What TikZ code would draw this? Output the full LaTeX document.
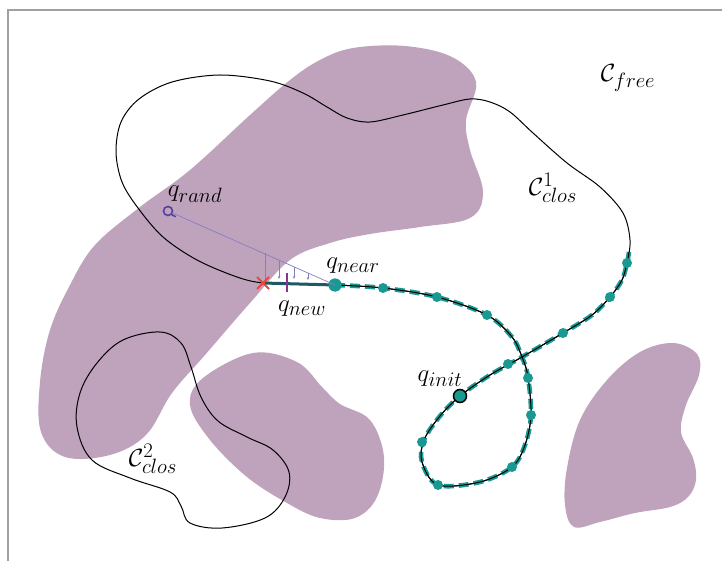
\documentclass[tikz,border=0pt]{standalone}
\usetikzlibrary{arrows.meta}
\definecolor{obst}{RGB}{191,163,188}
\definecolor{tealc}{RGB}{26,152,146}
\definecolor{darkteal}{RGB}{30,90,100}
\definecolor{lav}{RGB}{135,125,195}
\definecolor{indig}{RGB}{80,65,160}
\definecolor{newpur}{RGB}{140,50,150}
\definecolor{xred}{RGB}{235,70,60}
\definecolor{framec}{RGB}{160,160,160}
\tikzset{
  obstacle/.style={fill=obst, draw=none},
  cspace/.style={black, line width=1pt},
  treedash/.style={tealc, line width=4.6pt, dash pattern=on 10pt off 5pt},
  treedot/.style={circle, fill=tealc, inner sep=0pt, minimum size=10pt},
  lbl/.style={font=\fontsize{24.88}{28}\selectfont, inner sep=1pt},
  proj/.style={lav, line width=0.6pt},
}
\begin{document}
\begin{tikzpicture}[x=1pt,y=-1pt]
\useasboundingbox (0,0) rectangle (722,561);
% frame
\draw[framec, line width=1.2pt] (8,561) -- (8,10) -- (722,10);

% obstacles
\fill[obstacle] plot[smooth cycle, tension=0.6] coordinates {
 (353,48) (405,46) (452,57) (476,82) (466,120) (470,150) (483,192) (470,218)
 (420,227) (370,234) (330,243) (290,260) (250,303) (205,355) (172,393) (146,435)
 (110,455) (65,457) (41,432) (40,382) (50,330) (70,285) (95,245) (140,207)
 (190,170) (250,115) (290,80) (320,60)};
\fill[obstacle] plot[smooth cycle, tension=0.6] coordinates {
 (203,378) (253,353) (297,362) (322,387) (340,404) (370,420) (384,457) (377,497)
 (355,518) (320,518) (287,503) (247,477) (210,440) (190,405)};
\fill[obstacle] plot[smooth cycle, tension=0.6] coordinates {
 (673,343) (697,354) (699,375) (686,405) (681,432) (693,458) (696,480) (688,497)
 (670,507) (635,513) (600,522) (574,527) (565,505) (567,468) (580,420) (607,380) (640,352)};

% C^2 closed curve
\draw[cspace] plot[smooth cycle, tension=0.6] coordinates {
 (160,332) (181,343) (191,367) (201,397) (218,421) (247,437) (273,450) (289,472)
 (285,497) (265,518) (222,528) (190,523) (181,506) (170,492) (130,478) (92,460)
 (77,427) (80,393) (97,363) (123,340)};

% C^1 closed curve (tree path + return loop)
\draw[cspace] plot[smooth, tension=0.55] coordinates {
 (335,285) (383,288) (437,297) (487,315) (512,337) (522,357) (528,377) (531,415)
 (525,445) (512,467) (480,482) (438,485) (422,462) (424,440) (440,416) (460,396)
 (490,375) (522,357) (563,333) (592,315) (610,297) (622,280) (627,263) (630,240)
 (623,213) (600,187) (567,163) (533,133) (510,112) (490,102) (470,99) (443,105)
 (403,115) (370,122) (347,118) (327,107) (303,93) (270,81) (220,75) (172,82)
 (139,99) (121,122) (116,152) (122,182) (138,208) (163,237) (197,260) (237,277)
 (263,283) (300,284.5) (335,285)};

% tree (dashed teal over the curve)
\draw[treedash] plot[smooth, tension=0.55] coordinates {
 (335,285) (383,288) (437,297) (487,315) (512,337) (522,357) (528,377) (531,415)
 (525,445) (512,467) (480,482) (438,485) (422,462) (424,440) (440,416) (460,396)
 (490,375) (522,357) (563,333) (592,315) (610,297) (622,280) (627,263) (629,252)};
\draw[cspace] plot[smooth, tension=0.55] coordinates {
 (335,285) (383,288) (437,297) (487,315) (512,337) (522,357) (528,377) (531,415)
 (525,445) (512,467) (480,482) (438,485) (422,462) (424,440) (440,416) (460,396)
 (490,375) (522,357) (563,333) (592,315) (610,297) (622,280) (627,263) (629,252)};

% tree vertices
\foreach \p in {(383,288),(437,297),(487,315),(528,378),(531,415),(512,467),(438,485),
 (422,442),(508,364),(563,333),(610,297),(627,263)}
  \node[treedot] at \p {};

% extension step q_near -> q_new
\coordinate (xmark) at (263,283);
\node[circle, fill=tealc, inner sep=0pt, minimum size=13pt] (qnear) at (335,285) {};
\draw[darkteal, line width=3pt] (xmark) -- (qnear.center);
\node[treedot, minimum size=13pt] at (335,285) {};

% q_rand and the line to q_near
\node[circle, draw=indig, line width=1.6pt, inner sep=0pt, minimum size=9pt] (qrand) at (168,211) {};
\draw[lav, line width=0.7pt] (qrand) -- (qnear.center);
\draw[indig, line width=1.4pt] (qrand.south east) -- ++(4,2);

% projections
\draw[proj] (265,253) -- (265,281);
\draw[proj, -{Stealth[length=3pt,width=2.5pt]}] (279,260) -- (279,279);
\draw[proj, -{Stealth[length=3pt,width=2.5pt]}] (294,267) -- (294,279);
\draw[proj, -{Stealth[length=3pt,width=2.5pt]}] (308,273) -- (308,280);

% q_new marker
\draw[newpur, line width=2.6pt] (287,273) -- (287,292);
% red cross
\draw[xred, line width=1.8pt] (257,277) -- (269,289) (257,289) -- (269,277);

% q_init
\node[circle, fill=tealc, draw=black, line width=1.5pt, inner sep=0pt, minimum size=13pt] (qinit) at (460,396) {};

% labels
\node[lbl] (lrand) at (195,194) {$q_{rand}$};
\node[lbl] (lnear) at (353,266) {$q_{near}$};
\node[lbl] (lnew) at (302,309) {$q_{new}$};
\node[lbl] (linit) at (440,379) {$q_{init}$};
\node[lbl] (lfree) at (628,78) {$\mathcal{C}_{free}$};
\node[lbl] (lc1) at (553,188) {$\mathcal{C}^1_{clos}$};
\node[lbl] (lc2) at (153,459) {$\mathcal{C}^2_{clos}$};
\end{tikzpicture}
\end{document}
